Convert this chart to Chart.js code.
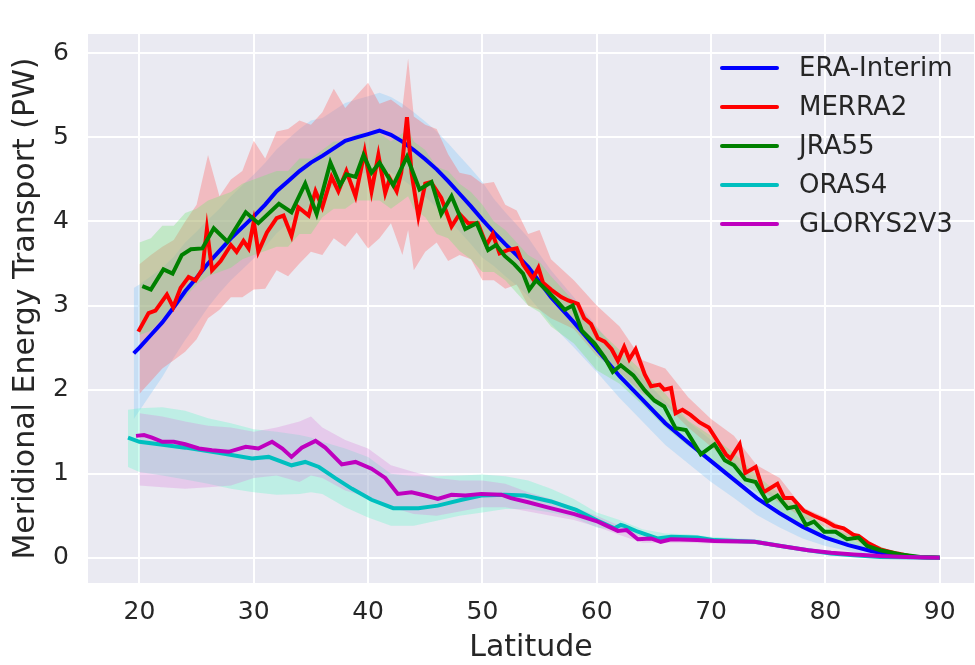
<!DOCTYPE html>
<html>
<head>
<meta charset="utf-8">
<script src="https://cdn.jsdelivr.net/npm/chart.js@4.4.0/dist/chart.umd.min.js"></script>
<style>
  html, body { margin: 0; padding: 0; background: #ffffff; }
  canvas { display: block; }
</style>
</head>
<body>
<canvas id="chart" width="975" height="665"></canvas>
<script>
// axis ticks
const xTicks = [20, 30, 40, 50, 60, 70, 80, 90]
const yTicks = [0, 1, 2, 3, 4, 5, 6]

// legend names / colours (same order as in the legend)
const seriesNames = ['ERA-Interim', 'MERRA2', 'JRA55', 'ORAS4', 'GLORYS2V3']
const seriesColors = ['#0000ff', '#ff0000', '#008000', '#00bfbf', '#bf00bf']
const bandColors = ['rgba(135,200,250,0.35)', 'rgba(255,100,100,0.35)', 'rgba(120,230,120,0.35)',
                    'rgba(90,250,200,0.3)', 'rgba(220,130,220,0.3)']

// latitude grid shared by the atmospheric spread bands (and ERA line)
const atmLat = [19.5, 20, 21, 22, 23, 24, 25, 26, 27, 28, 29, 30, 31, 32, 33, 34, 35, 36, 37, 38, 39, 40, 41, 42, 43, 43.5,
                44, 45, 46, 47, 48, 49, 50, 51, 52, 53, 54, 55, 56, 58, 60, 62, 64, 66, 68, 70, 72, 74, 76, 78, 80, 82, 84, 86, 88, 90]

// ERA-Interim
const eraVal = [2.43, 2.5, 2.65, 2.8, 2.98, 3.17, 3.33, 3.5, 3.65, 3.8, 3.93, 4.06, 4.2, 4.36, 4.48, 4.6, 4.7, 4.78, 4.87, 4.96, 5.0, 5.04, 5.08, 5.03, 4.95, 4.9,
                4.85, 4.74, 4.62, 4.48, 4.33, 4.18, 4.02, 3.87, 3.73, 3.6, 3.46, 3.28, 3.1, 2.8, 2.48, 2.16, 1.88, 1.6, 1.37, 1.15, 0.93, 0.71, 0.53, 0.37, 0.24, 0.15, 0.08, 0.03, 0.01, 0]
const eraHi = [3.21, 3.25, 3.35, 3.45, 3.58, 3.75, 3.88, 4.02, 4.15, 4.3, 4.43, 4.56, 4.7, 4.86, 4.98, 5.1, 5.2, 5.23, 5.32, 5.41, 5.45, 5.49, 5.53, 5.48, 5.4, 5.35,
               5.3, 5.19, 5.07, 4.93, 4.78, 4.63, 4.47, 4.27, 4.11, 3.96, 3.81, 3.61, 3.42, 3.1, 2.75, 2.42, 2.14, 1.86, 1.62, 1.4, 1.15, 0.91, 0.7, 0.51, 0.34, 0.22, 0.12, 0.05, 0.02, 0]
const eraLo = [1.65, 1.75, 1.95, 2.15, 2.38, 2.59, 2.78, 2.98, 3.15, 3.3, 3.43, 3.56, 3.7, 3.86, 3.98, 4.1, 4.2, 4.33, 4.42, 4.51, 4.55, 4.59, 4.63, 4.58, 4.5, 4.45,
               4.4, 4.29, 4.17, 4.03, 3.88, 3.73, 3.57, 3.47, 3.35, 3.24, 3.11, 2.95, 2.78, 2.5, 2.21, 1.9, 1.62, 1.34, 1.12, 0.9, 0.71, 0.51, 0.36, 0.23, 0.14, 0.08, 0.04, 0.01, 0, 0]

// MERRA2
const merraLat = [19.9, 20.8, 21.4, 22.4, 22.95, 23.6, 24.3, 24.9, 25.5, 25.9, 26.35, 27.1, 28.0, 28.5, 29.1, 29.55, 30.0, 30.4, 31.15, 32.0,
                  32.6, 33.3, 33.9, 34.8, 35.4, 36.0, 36.8, 37.4, 38.1, 38.9, 39.7, 40.3, 40.9, 41.5, 41.9, 42.5, 42.9, 43.4, 43.8, 44.4,
                  45.0, 45.5, 46.4, 47.3, 48.0, 48.75, 49.6, 50.35, 50.9, 51.5, 52.2, 53.0, 53.55, 54.4, 54.9, 55.3, 56.0, 56.9, 57.5, 58.35,
                  58.9, 59.5, 60.1, 60.7, 61.3, 61.85, 62.4, 62.85, 63.4, 64.2, 64.75, 65.5, 65.9, 66.5, 66.9, 67.5, 68.2, 69.0, 69.8, 70.6,
                  71.3, 71.7, 72.5, 73.0, 73.9, 74.6, 75.8, 76.4, 77.1, 78.1, 79.0, 80.0, 80.75, 81.6, 82.5, 82.9, 83.7, 84.8, 86.3, 87.7, 90]
const merraVal = [2.69, 2.91, 2.94, 3.13, 2.98, 3.21, 3.34, 3.30, 3.43, 3.91, 3.42, 3.53, 3.72, 3.64, 3.77, 3.68, 4.00, 3.64, 3.87, 4.04,
                  4.07, 3.83, 4.17, 4.07, 4.36, 4.17, 4.53, 4.36, 4.60, 4.30, 4.83, 4.36, 4.79, 4.34, 4.51, 4.36, 4.58, 5.24, 4.58, 4.06,
                  4.45, 4.47, 4.28, 3.94, 4.09, 3.98, 3.98, 3.72, 3.85, 3.62, 3.66, 3.68, 3.49, 3.32, 3.45, 3.27, 3.19, 3.10, 3.06, 3.02,
                  2.85, 2.78, 2.61, 2.57, 2.48, 2.34, 2.51, 2.36, 2.48, 2.18, 2.04, 2.06, 2.00, 2.02, 1.72, 1.76, 1.70, 1.61, 1.55, 1.38,
                  1.23, 1.18, 1.35, 1.01, 1.08, 0.78, 0.88, 0.71, 0.71, 0.56, 0.50, 0.44, 0.38, 0.35, 0.27, 0.26, 0.18, 0.10, 0.05, 0.01, 0]
const merraHi = [null, 3.49, 3.6, 3.7, 3.78, 4.0, 4.2, 4.79, 4.3, 4.5, 4.6, 4.96, 4.75, 5.07, 5.1, 5.2, 5.15, 5.3, 5.58, 5.35, 5.5, 5.65, 5.4, 5.45, 5.35, 5.94,
                 5.25, 5.15, 5.1, 4.8, 4.58, 4.55, 4.45, 4.47, 4.2, 4.13, 3.85, 3.9, 3.55, 3.3, 3.0, 2.75, 2.35, 2.25, 1.91, 1.65, 1.45, 1.1, 0.95, 0.6, 0.48, 0.33, 0.17, 0.07, 0.02, 0]
const merraLo = [null, 1.95, 2.1, 2.25, 2.35, 2.45, 2.6, 2.85, 2.95, 3.1, 3.1, 3.19, 3.2, 3.42, 3.35, 3.5, 3.64, 3.6, 3.8, 3.7, 3.87, 3.68, 3.8, 3.98, 3.6, 3.9,
                 3.42, 3.64, 3.75, 3.53, 3.6, 3.55, 3.3, 3.3, 3.2, 3.25, 3.0, 2.95, 2.85, 2.72, 2.4, 2.2, 1.95, 1.82, 1.55, 1.32, 1.08, 0.85, 0.65, 0.48, 0.37, 0.24, 0.11, 0.04, 0.01, 0]

// JRA55
const jraLat = [20.25, 21.0, 22.1, 22.9, 23.7, 24.5, 25.5, 26.5, 27.7, 29.3, 30.4, 32.2, 33.3, 34.5, 35.5, 36.7, 37.55, 38.1, 38.9, 39.6,
                40.3, 41.0, 42.2, 43.4, 44.5, 45.55, 46.4, 47.3, 48.5, 49.5, 50.5, 51.2, 51.95, 52.8, 53.55, 54.1, 54.7, 55.7, 56.6, 57.2,
                57.9, 58.7, 59.8, 60.7, 61.4, 62.1, 63.2, 64.2, 65.05, 65.9, 66.9, 67.8, 69.1, 70.3, 71.2, 72.0, 73.0, 73.9, 74.9, 75.8,
                76.7, 77.4, 78.3, 79.0, 79.9, 80.9, 81.9, 82.9, 83.65, 84.8, 86.6, 88.3, 90]
const jraVal = [3.23, 3.19, 3.43, 3.38, 3.60, 3.67, 3.68, 3.92, 3.76, 4.11, 3.98, 4.21, 4.11, 4.45, 4.09, 4.70, 4.43, 4.56, 4.53, 4.79,
                4.58, 4.70, 4.43, 4.77, 4.38, 4.47, 4.09, 4.30, 3.91, 3.98, 3.66, 3.72, 3.59, 3.49, 3.38, 3.19, 3.30, 3.17, 3.04, 2.95,
                3.00, 2.70, 2.55, 2.38, 2.21, 2.29, 2.17, 1.99, 1.87, 1.80, 1.54, 1.52, 1.23, 1.35, 1.16, 1.10, 0.93, 0.90, 0.67, 0.74,
                0.59, 0.61, 0.39, 0.43, 0.31, 0.31, 0.22, 0.24, 0.14, 0.09, 0.04, 0.01, 0]
const jraHi = [null, 3.75, 3.8, 3.95, 3.95, 4.1, 4.15, 4.25, 4.3, 4.35, 4.45, 4.5, 4.55, 4.6, 4.6, 4.75, 4.75, 4.85, 4.95, 4.95, 5.05, 5.05, 5.05, 4.95, 5.05, 5.1,
               4.95, 4.85, 4.65, 4.6, 4.45, 4.35, 4.2, 4.0, 3.9, 3.75, 3.6, 3.52, 3.35, 3.05, 2.73, 2.47, 2.22, 1.95, 1.63, 1.45, 1.25, 0.98, 0.76, 0.57, 0.37, 0.28, 0.18, 0.07, 0.02, 0]
const jraLo = [null, 2.65, 2.7, 2.85, 2.95, 3.1, 3.25, 3.35, 3.4, 3.45, 3.55, 3.6, 3.65, 3.7, 3.7, 3.85, 3.85, 4.05, 4.15, 4.15, 4.25, 4.25, 4.25, 4.15, 4.25, 4.3,
               4.15, 4.05, 3.85, 3.8, 3.65, 3.55, 3.4, 3.4, 3.3, 3.15, 3.0, 2.92, 2.75, 2.55, 2.23, 2.07, 1.82, 1.55, 1.33, 1.15, 0.95, 0.78, 0.56, 0.37, 0.25, 0.16, 0.06, 0.03, 0, 0]

// latitude grid for the ocean spread bands
const oceanLat = [19, 20, 22, 24, 26, 28, 30, 32, 34, 35, 36, 38, 40, 42, 44, 46, 48, 50, 52, 54, 56, 58, 60, 62, 64, 66, 68, 70, 74, 78, 82, 86, 90]

// ORAS4
const orasLat = [19.0, 20, 21.7, 24, 26.9, 29.85, 31.3, 33.3, 34.5, 35.7, 37.1, 38.6, 40.3, 42.2, 44.4, 46.1, 48.2, 49.9, 51.95, 53.7,
                 56, 58.2, 60.1, 61.55, 62.1, 62.4, 63.6, 65.3, 66.5, 68.8, 70.3, 73.8, 76.1, 78.5, 80.5, 82.5, 84.8, 90]
const orasVal = [1.43, 1.38, 1.35, 1.31, 1.25, 1.18, 1.20, 1.10, 1.14, 1.08, 0.95, 0.82, 0.69, 0.59, 0.59, 0.62, 0.69, 0.74, 0.75, 0.74,
                 0.67, 0.57, 0.44, 0.35, 0.39, 0.38, 0.31, 0.23, 0.25, 0.24, 0.21, 0.19, 0.14, 0.09, 0.05, 0.03, 0.01, 0]
const orasHi = [1.76, 1.78, 1.79, 1.75, 1.66, 1.6, 1.53, 1.5, 1.46, 1.43, 1.38, 1.3, 1.2, 1.0, 0.97, 0.97, 0.98, 0.99, 0.97, 0.92, 0.82, 0.7, 0.54,
                0.45, 0.34, 0.29, 0.28, 0.25, 0.22, 0.12, 0.04, 0.01, 0]
const orasLo = [1.08, 1.02, 0.98, 0.93, 0.88, 0.82, 0.78, 0.75, 0.76, 0.78, 0.76, 0.6, 0.48, 0.38, 0.38, 0.44, 0.5, 0.54, 0.58, 0.58, 0.54, 0.48, 0.36,
                0.32, 0.25, 0.2, 0.2, 0.18, 0.16, 0.08, 0.02, 0, 0]

// GLORYS2V3
const glorysLat = [19.7, 20.4, 21.1, 22, 23, 24, 25.2, 26.35, 27.8, 29.3, 30.4, 31.6, 32.5, 33.3, 34.2, 35.4, 36.25, 37.7, 38.9, 40.3,
                   41.5, 42.6, 43.8, 45, 46.1, 47.3, 48.5, 49.9, 51.65, 52.5, 54, 55.7, 58.05, 60.1, 61.85, 62.6, 63.6, 64.75, 65.6, 66.5,
                   68.8, 70.3, 73.8, 76.1, 78.5, 80.5, 82.5, 84.8, 87, 90]
const glorysVal = [1.45, 1.46, 1.43, 1.38, 1.38, 1.35, 1.30, 1.28, 1.26, 1.32, 1.30, 1.38, 1.30, 1.20, 1.31, 1.39, 1.31, 1.11, 1.14, 1.06,
                   0.95, 0.76, 0.78, 0.74, 0.70, 0.75, 0.74, 0.76, 0.75, 0.71, 0.66, 0.60, 0.52, 0.43, 0.32, 0.33, 0.22, 0.23, 0.19, 0.22,
                   0.21, 0.20, 0.19, 0.14, 0.09, 0.06, 0.04, 0.02, 0.01, 0]
const glorysHi = [null, 1.72, 1.68, 1.62, 1.57, 1.55, 1.5, 1.55, 1.62, 1.68, 1.55, 1.4, 1.3, 1.1, 1.02, 0.95, 0.92, 0.92, 0.88, 0.78, 0.7, 0.6, 0.5,
                  0.38, 0.26, 0.24, 0.24, 0.23, 0.21, 0.11, 0.05, 0.01, 0]
const glorysLo = [null, 0.86, 0.84, 0.82, 0.84, 0.86, 0.95, 0.98, 0.9, 0.98, 0.95, 0.8, 0.72, 0.6, 0.52, 0.5, 0.55, 0.6, 0.6, 0.55, 0.5, 0.45, 0.37,
                  0.27, 0.18, 0.18, 0.18, 0.17, 0.17, 0.08, 0.03, 0, 0]

// helpers
////////////////////////////

function pts(lats, vals) {
    return lats.map((x, i) => ({ x: x, y: vals[i] })).filter(p => p.y !== null)
}

const textColor = '#262626'
const fontFamily = '"DejaVu Sans", "Liberation Sans", sans-serif'

let lineSets = [
    { lat: atmLat, val: eraVal },
    { lat: merraLat, val: merraVal },
    { lat: jraLat, val: jraVal },
    { lat: orasLat, val: orasVal },
    { lat: glorysLat, val: glorysVal }
]
let bandSets = [
    { lat: atmLat, hi: eraHi, lo: eraLo },
    { lat: atmLat, hi: merraHi, lo: merraLo },
    { lat: atmLat, hi: jraHi, lo: jraLo },
    { lat: oceanLat, hi: orasHi, lo: orasLo },
    { lat: oceanLat, hi: glorysHi, lo: glorysLo }
]

let datasets = []
// lines first so legend indexes match; later ones drawn on top (lower order)
lineSets.forEach((s, i) => {
    datasets.push({
        label: seriesNames[i],
        data: pts(s.lat, s.val),
        borderColor: seriesColors[i],
        borderWidth: 4,
        pointRadius: 0,
        tension: 0,
        fill: false,
        order: 5 - i
    })
})
// spread bands: upper edge then lower edge filled up to it
bandSets.forEach((b, i) => {
    datasets.push({
        label: seriesNames[i] + ' hi',
        data: pts(b.lat, b.hi),
        borderWidth: 0,
        borderColor: 'rgba(0,0,0,0)',
        pointRadius: 0,
        fill: false,
        order: 20 - i
    })
    datasets.push({
        label: seriesNames[i] + ' lo',
        data: pts(b.lat, b.lo),
        borderWidth: 0,
        borderColor: 'rgba(0,0,0,0)',
        backgroundColor: bandColors[i],
        pointRadius: 0,
        fill: '-1',
        order: 20 - i
    })
})

// plot background (seaborn darkgrid)
const plotBackground = {
    id: 'plotBackground',
    beforeDraw(chart) {
        const a = chart.chartArea
        const ctx = chart.ctx
        ctx.save()
        ctx.fillStyle = '#eaeaf2'
        ctx.fillRect(a.left, a.top, a.right - a.left, a.bottom - a.top)
        ctx.restore()
    }
}

// legend drawn inside the plot, upper right, no frame
const innerLegend = {
    id: 'innerLegend',
    afterDatasetsDraw(chart) {
        const a = chart.chartArea
        const ctx = chart.ctx
        ctx.save()
        ctx.font = '26px ' + fontFamily
        ctx.textBaseline = 'middle'
        ctx.textAlign = 'left'
        seriesNames.forEach((name, i) => {
            let y = a.top + 34 + i * 39
            ctx.strokeStyle = seriesColors[i]
            ctx.lineWidth = 4
            ctx.lineCap = 'round'
            ctx.beginPath()
            ctx.moveTo(a.right - 252, y)
            ctx.lineTo(a.right - 197, y)
            ctx.stroke()
            ctx.fillStyle = textColor
            ctx.fillText(name, a.right - 175, y + 1)
        })
        ctx.restore()
    }
}

let ctx = document.getElementById('chart').getContext('2d')
let chart = new Chart(ctx, {
    type: 'line',
    data: { datasets: datasets },
    options: {
        responsive: false,
        animation: false,
        devicePixelRatio: 1,
        layout: { padding: { top: 4, right: 1, left: 0, bottom: 0 } },
        plugins: {
            legend: { display: false },
            tooltip: { enabled: false }
        },
        scales: {
            x: {
                type: 'linear',
                min: 15.5,
                max: 93,
                afterBuildTicks: s => { s.ticks = xTicks.map(v => ({ value: v })) },
                afterFit: s => { s.height = 82 },
                ticks: { color: textColor, font: { family: fontFamily, size: 25 }, padding: 14, maxRotation: 0, callback: v => String(v) },
                grid: { color: '#ffffff', lineWidth: 2, drawTicks: false },
                border: { display: false },
                title: { display: true, text: 'Latitude', color: textColor, font: { family: fontFamily, size: 30 }, padding: { top: 0, bottom: -1 } }
            },
            y: {
                type: 'linear',
                min: -0.3,
                max: 6.23,
                afterBuildTicks: s => { s.ticks = yTicks.map(v => ({ value: v })) },
                afterFit: s => { s.width = 88 },
                ticks: { color: textColor, font: { family: fontFamily, size: 25 }, padding: 19, callback: v => String(v) },
                grid: { color: '#ffffff', lineWidth: 2, drawTicks: false },
                border: { display: false },
                title: { display: true, text: 'Meridional Energy Transport (PW)', color: textColor, font: { family: fontFamily, size: 30 }, padding: { top: 8, bottom: 0 } }
            }
        }
    },
    plugins: [plotBackground, innerLegend]
})
</script>
</body>
</html>
